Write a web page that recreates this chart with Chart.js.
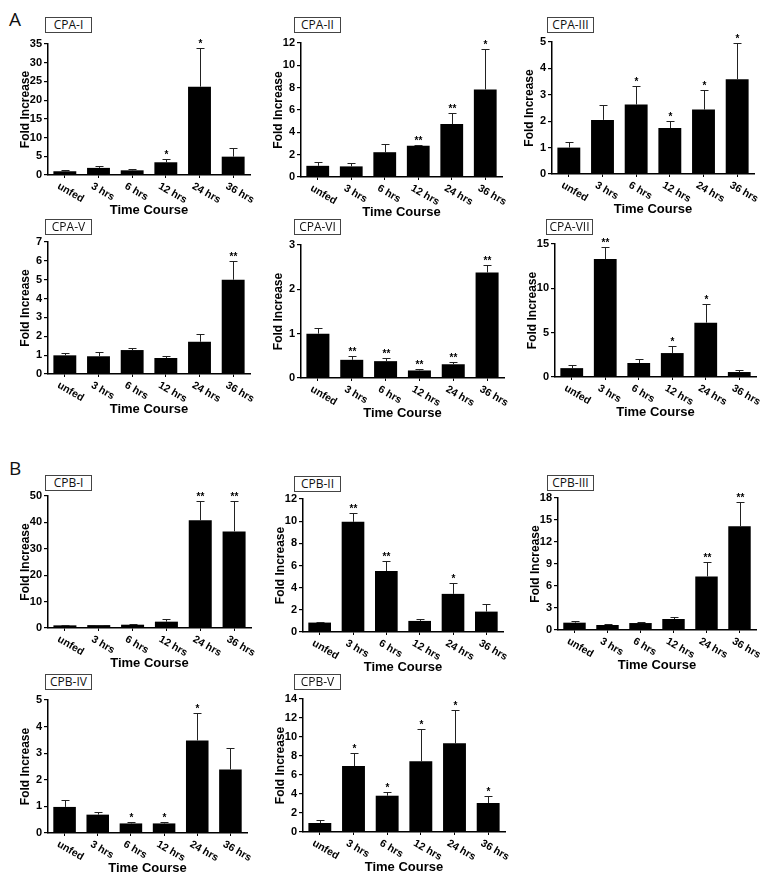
<!DOCTYPE html>
<html lang="en">
<head>
<meta charset="UTF-8">
<title>CPA / CPB time course</title>
<style>
  body {
    margin: 0;
    background: #fff;
    width: 779px;
    height: 882px;
    position: relative;
    overflow: hidden;
  }
  canvas {
    position: absolute;
  }
  .tag {
    position: absolute;
    box-sizing: border-box;
    border: 1px solid #444;
    width: 47px;
    height: 16px;
    font-family: "Open Sans", sans-serif;
    font-size: 12px;
    line-height: 14px;
    text-align: center;
    color: #111;
  }
  .letter {
    position: absolute;
    font-family: "Open Sans", sans-serif;
    font-size: 19px;
    color: #111;
  }
</style>
</head>
<body>

<div class="letter" style="left:9px; top:6px;">A</div>
<div class="letter" style="left:9px; top:455px;">B</div>

<script src="https://cdn.jsdelivr.net/npm/chart.js"></script>
<script>
  // time points (x categories), shared by every panel
  const timepoints = ['unfed', '3 hrs', '6 hrs', '12 hrs', '24 hrs', '36 hrs'];

  // fold increase: mean, error (upper bar) and significance marks
  const cpa1Mean = [1.0, 1.9, 1.25, 3.4, 23.6, 4.9];
  const cpa1Err  = [0.3, 0.4, 0.25, 0.9, 10.4, 2.4];
  const cpa1Sig  = ['', '', '', '*', '*', ''];

  const cpa2Mean = [1.0, 0.95, 2.22, 2.8, 4.74, 7.84];
  const cpa2Err  = [0.35, 0.28, 0.78, 0.1, 0.96, 3.63];
  const cpa2Sig  = ['', '', '', '**', '**', '*'];

  const cpa3Mean = [1.0, 2.05, 2.63, 1.74, 2.44, 3.59];
  const cpa3Err  = [0.2, 0.57, 0.69, 0.26, 0.76, 1.38];
  const cpa3Sig  = ['', '', '*', '*', '*', '*'];

  const cpa5Mean = [0.99, 0.94, 1.27, 0.85, 1.71, 5.0];
  const cpa5Err  = [0.12, 0.21, 0.11, 0.1, 0.41, 1.0];
  const cpa5Sig  = ['', '', '', '', '', '**'];

  const cpa6Mean = [1.0, 0.41, 0.38, 0.17, 0.31, 2.38];
  const cpa6Err  = [0.13, 0.09, 0.07, 0.03, 0.05, 0.17];
  const cpa6Sig  = ['', '**', '**', '**', '**', '**'];

  const cpa7Mean = [1.0, 13.3, 1.58, 2.7, 6.13, 0.56];
  const cpa7Err  = [0.3, 1.35, 0.42, 0.8, 2.1, 0.23];
  const cpa7Sig  = ['', '**', '', '*', '*', ''];

  const cpb1Mean = [1.0, 1.1, 1.25, 2.4, 40.8, 36.6];
  const cpb1Err  = [0.2, 0.2, 0.15, 1.0, 7.4, 11.4];
  const cpb1Sig  = ['', '', '', '', '**', '**'];

  const cpb2Mean = [0.85, 9.94, 5.5, 1.0, 3.44, 1.84];
  const cpb2Err  = [0.09, 0.76, 0.87, 0.15, 0.94, 0.73];
  const cpb2Sig  = ['', '**', '**', '', '*', ''];

  const cpb3Mean = [1.0, 0.68, 0.95, 1.5, 7.3, 14.14];
  const cpb3Err  = [0.18, 0.12, 0.09, 0.27, 1.95, 3.36];
  const cpb3Sig  = ['', '', '', '', '**', '**'];

  const cpb4Mean = [0.98, 0.69, 0.36, 0.36, 3.48, 2.39];
  const cpb4Err  = [0.25, 0.11, 0.07, 0.05, 1.04, 0.79];
  const cpb4Sig  = ['', '', '*', '*', '*', ''];

  const cpb5Mean = [0.95, 6.95, 3.82, 7.44, 9.33, 3.05];
  const cpb5Err  = [0.31, 1.37, 0.43, 3.4, 3.55, 0.7];
  const cpb5Sig  = ['', '*', '*', '*', '*', '*'];

  // y axis ranges
  const yMax  = [35, 12, 5, 7, 3, 15, 50, 12, 18, 5, 14];
  const yStep = [5, 2, 1, 1, 1, 5, 10, 2, 3, 1, 2];

  // panel placement on the page: axis origin, top of y axis, right end of x axis, name tag
  const panels = [
    { name: 'CPA-I',   mean: cpa1Mean, err: cpa1Err, sig: cpa1Sig, x: 48,  top: 44,  zero: 175, right: 250, tagX: 45,  tagY: 17 },
    { name: 'CPA-II',  mean: cpa2Mean, err: cpa2Err, sig: cpa2Sig, x: 301, top: 43,  zero: 177, right: 502, tagX: 294, tagY: 17 },
    { name: 'CPA-III', mean: cpa3Mean, err: cpa3Err, sig: cpa3Sig, x: 552, top: 42,  zero: 174, right: 754, tagX: 547, tagY: 17 },
    { name: 'CPA-V',   mean: cpa5Mean, err: cpa5Err, sig: cpa5Sig, x: 48,  top: 242, zero: 374, right: 250, tagX: 45,  tagY: 219 },
    { name: 'CPA-VI',  mean: cpa6Mean, err: cpa6Err, sig: cpa6Sig, x: 301, top: 245, zero: 378, right: 504, tagX: 294, tagY: 219 },
    { name: 'CPA-VII', mean: cpa7Mean, err: cpa7Err, sig: cpa7Sig, x: 555, top: 244, zero: 377, right: 756, tagX: 546, tagY: 219 },
    { name: 'CPB-I',   mean: cpb1Mean, err: cpb1Err, sig: cpb1Sig, x: 48,  top: 496, zero: 628, right: 251, tagX: 45,  tagY: 475 },
    { name: 'CPB-II',  mean: cpb2Mean, err: cpb2Err, sig: cpb2Sig, x: 303, top: 499, zero: 632, right: 503, tagX: 294, tagY: 476 },
    { name: 'CPB-III', mean: cpb3Mean, err: cpb3Err, sig: cpb3Sig, x: 558, top: 498, zero: 630, right: 756, tagX: 547, tagY: 475 },
    { name: 'CPB-IV',  mean: cpb4Mean, err: cpb4Err, sig: cpb4Sig, x: 48,  top: 700, zero: 833, right: 247, tagX: 45,  tagY: 674 },
    { name: 'CPB-V',   mean: cpb5Mean, err: cpb5Err, sig: cpb5Sig, x: 303, top: 699, zero: 832, right: 505, tagX: 294, tagY: 674 }
  ];

  const FONT = '"Liberation Sans", Arial, sans-serif';
  const Y_W = 46;      // width kept for the y scale
  const X_H = 44;      // height kept for the x scale
  const PAD_TOP = 14;
  const PAD_RIGHT = 6;

  // error bars, stars and the slanted time labels
  function makeOverlay(p) {
    return {
      id: 'overlay',
      afterDatasetsDraw(chart) {
        const { ctx, scales: { x, y } } = chart;
        const meta = chart.getDatasetMeta(0);
        ctx.save();
        ctx.strokeStyle = '#222';
        ctx.fillStyle = '#000';
        ctx.lineWidth = 1;
        ctx.font = 'bold 10px ' + FONT;
        ctx.textAlign = 'center';
        ctx.textBaseline = 'bottom';
        meta.data.forEach((bar, i) => {
          const cx = Math.round(bar.x) + 0.5;
          const top = Math.round(y.getPixelForValue(p.mean[i] + p.err[i])) + 0.5;
          ctx.beginPath();
          ctx.moveTo(cx, bar.y);
          ctx.lineTo(cx, top);
          ctx.moveTo(cx - 4, top);
          ctx.lineTo(cx + 4, top);
          ctx.stroke();
          if (p.sig[i]) {
            ctx.fillText(p.sig[i], cx, top + 1);
          }
        });

        ctx.font = 'bold 10.5px ' + FONT;
        ctx.textAlign = 'left';
        ctx.textBaseline = 'top';
        timepoints.forEach((lab, i) => {
          const px = x.getPixelForTick(i);
          ctx.save();
          ctx.translate(px - 4, chart.chartArea.bottom + 6);
          ctx.rotate(30 * Math.PI / 180);
          ctx.fillText(lab, 0, 0);
          ctx.restore();
        });
        ctx.restore();
      }
    };
  }

  function drawPanel(p, k) {
    const tag = document.createElement('div');
    tag.className = 'tag';
    tag.style.left = p.tagX + 'px';
    tag.style.top = p.tagY + 'px';
    tag.textContent = p.name;
    document.body.appendChild(tag);

    const canvas = document.createElement('canvas');
    const w = Y_W + (p.right - p.x) + PAD_RIGHT;
    const h = PAD_TOP + (p.zero - p.top) + X_H;
    canvas.width = w;
    canvas.height = h;
    canvas.style.width = w + 'px';
    canvas.style.height = h + 'px';
    canvas.style.left = (p.x - Y_W) + 'px';
    canvas.style.top = (p.top - PAD_TOP) + 'px';
    document.body.appendChild(canvas);

    new Chart(canvas.getContext('2d'), {
      type: 'bar',
      data: {
        labels: timepoints,
        datasets: [{
          data: p.mean,
          backgroundColor: '#000',
          borderWidth: 0,
          barPercentage: 0.68,
          categoryPercentage: 1.0
        }]
      },
      options: {
        responsive: false,
        animation: false,
        layout: { padding: { top: PAD_TOP, right: PAD_RIGHT, left: 0, bottom: 0 } },
        plugins: {
          legend: { display: false },
          tooltip: { enabled: false }
        },
        scales: {
          x: {
            offset: true,
            ticks: { display: false },
            grid: {
              display: true,
              drawOnChartArea: false,
              drawTicks: true,
              tickLength: 3,
              offset: false,
              color: '#000',
              lineWidth: 1
            },
            border: { display: true, color: '#000', width: 1.5 },
            title: {
              display: true,
              text: 'Time Course',
              color: '#000',
              font: { family: FONT, size: 13, weight: 'bold' },
              padding: { top: 0, bottom: 1 }
            },
            afterFit(s) { s.height = X_H; }
          },
          y: {
            min: 0,
            max: yMax[k],
            ticks: {
              stepSize: yStep[k],
              color: '#000',
              padding: 2,
              font: { family: FONT, size: 11, weight: 'bold' }
            },
            grid: {
              display: true,
              drawOnChartArea: false,
              drawTicks: true,
              tickLength: 4,
              color: '#000',
              lineWidth: 1.2
            },
            border: { display: true, color: '#000', width: 1.5 },
            title: {
              display: true,
              text: 'Fold Increase',
              color: '#000',
              font: { family: FONT, size: 12, weight: 'bold' },
              padding: { top: 16, bottom: 0 }
            },
            afterFit(s) { s.width = Y_W; }
          }
        }
      },
      plugins: [makeOverlay(p)]
    });
  }

  panels.forEach(drawPanel);
</script>
</body>
</html>
